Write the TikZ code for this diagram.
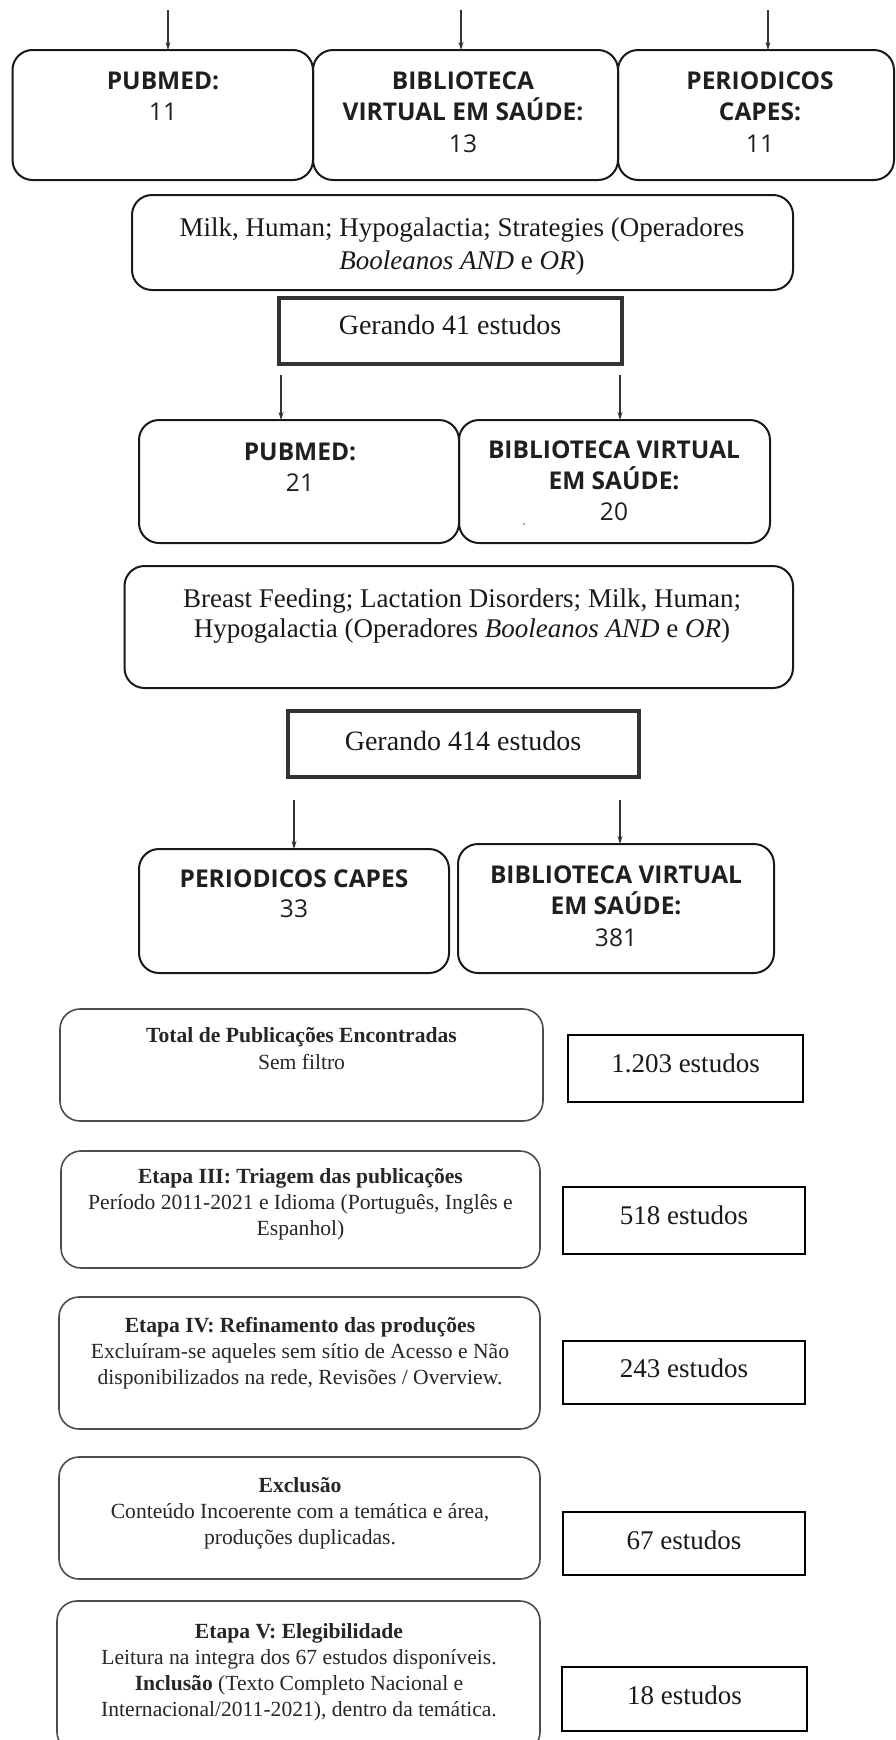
\documentclass[tikz,border=0pt]{standalone}
\usepackage{fontspec}
\setmainfont{Liberation Serif}
\newfontfamily\osans{Open Sans}
\usetikzlibrary{arrows.meta}
\newcommand\mkbox[6]{\node[#1, minimum width={(#4-#2)*1pt}, minimum height={(#5-#3)*1pt}] (#6) at ({(#2+#4)/2},{(#3+#5)/2}) {};}
\tikzset{
  rbox/.style={draw=black!90, line width=2pt, rounded corners=20pt, inner sep=0pt, outer sep=0pt},
  lbox/.style={draw=black!70, line width=1.6pt, rounded corners=20pt, inner sep=0pt, outer sep=0pt},
  gbox/.style={draw=black!80, line width=3.2pt, inner sep=0pt, outer sep=0pt},
  nbox/.style={draw=black, line width=2.4pt, inner sep=0pt, outer sep=0pt},
  arr/.style={draw=black!80, line width=1.5pt, -{Stealth[length=8pt,width=5pt]}},
  sanst/.style={anchor=base, align=center, inner sep=0pt, text=black!88, font=\osans\fontsize{24.5}{31.5}\selectfont},
  sert/.style={anchor=base, align=center, inner sep=0pt, text=black!90, font=\fontsize{27}{33}\selectfont},
  numt/.style={anchor=base, align=center, inner sep=0pt, text=black!90, font=\fontsize{27}{33}\selectfont},
  smallt/.style={anchor=base, align=center, inner sep=0pt, text=black!85, font=\fontsize{21.6}{26}\selectfont},
}
\begin{document}
\begin{tikzpicture}[x=1pt,y=-1pt]
\useasboundingbox (0,0) rectangle (895,1740);
% ---------- top row ----------
\mkbox{rbox}{12.5}{50}{313}{180}{pubA}
\mkbox{rbox}{313}{50}{618}{180}{bvsA}
\mkbox{rbox}{618}{50}{894}{180}{capA}
\node[sanst] (tpubA) at (163,120.5) {\bfseries PUBMED:\\11};
\node[sanst] (tbvsA) at (463,152) {\bfseries BIBLIOTECA\\\bfseries VIRTUAL EM SAÚDE:\\13};
\node[sanst] (tcapA) at (760,152) {\bfseries PERIODICOS\\\bfseries CAPES:\\11};
\coordinate (s1) at (168,10);
\coordinate (s2) at (461,10);
\coordinate (s3) at (768,10);
\draw[arr] (s1) -- (s1 |- pubA.north);
\draw[arr] (s2) -- (s2 |- bvsA.north);
\draw[arr] (s3) -- (s3 |- capA.north);
% keywords 1
\mkbox{rbox}{132}{195}{793}{290}{kw1}
\node[sert] (tkw1) at (462,269) {Milk, Human; Hypogalactia; Strategies (Operadores\\\textit{Booleanos AND} e \textit{OR})};
\mkbox{gbox}{279}{298}{622}{364}{ger1}
\node[sert, font=\fontsize{28}{33}\selectfont] (tger1) at (450,334) {Gerando 41 estudos};
% ---------- second row ----------
\mkbox{rbox}{139}{420}{459}{543}{pubB}
\mkbox{rbox}{459}{420}{770}{543}{bvsB}
\node[sanst, font=\osans\fontsize{24.5}{31}\selectfont] (tpubB) at (300,491) {\bfseries PUBMED:\\21};
\node[sanst, font=\osans\fontsize{24.5}{31}\selectfont] (tbvsB) at (614,520) {\bfseries BIBLIOTECA VIRTUAL\\\bfseries EM SAÚDE:\\20};
\fill[black!45] (524,524) circle (1.2);
\coordinate (s4) at (281,375);
\coordinate (s5) at (620,375);
\draw[arr] (s4) -- (s4 |- pubB.north);
\draw[arr] (s5) -- (s5 |- bvsB.north);
% keywords 2
\mkbox{rbox}{124.5}{566}{793}{688}{kw2}
\node[sert, font=\fontsize{27}{30}\selectfont] (tkw2) at (462,637) {Breast Feeding; Lactation Disorders; Milk, Human;\\Hypogalactia (Operadores \textit{Booleanos AND} e \textit{OR})};
\mkbox{gbox}{288}{711}{639}{777}{ger2}
\node[sert, font=\fontsize{28}{33}\selectfont] (tger2) at (463,750) {Gerando 414 estudos};
% ---------- third row ----------
\mkbox{rbox}{139}{849}{449}{973}{capC}
\mkbox{rbox}{458}{844}{774}{973}{bvsC}
\node[sanst, font=\osans\fontsize{24.5}{30}\selectfont] (tcapC) at (294,917) {\bfseries PERIODICOS CAPES\\33};
\node[sanst, font=\osans\fontsize{24.5}{31.5}\selectfont] (tbvsC) at (616,946) {\bfseries BIBLIOTECA VIRTUAL\\\bfseries EM SAÚDE:\\381};
\coordinate (s6) at (294,800);
\coordinate (s7) at (620,800);
\draw[arr] (s6) -- (s6 |- capC.north);
\draw[arr] (s7) -- (s7 |- bvsC.north);
% ---------- bottom list ----------
\mkbox{lbox}{60}{1009}{543}{1121}{st1}
\node[smallt, font=\fontsize{21.6}{26.5}\selectfont] (tst1) at (301.5,1069) {\textbf{Total de Publicações Encontradas}\\Sem filtro};
\mkbox{nbox}{568}{1035}{803}{1102}{n1}
\node[numt] (tn1) at (685.5,1072.5) {1.203 estudos};

\mkbox{lbox}{61}{1151}{540}{1268}{st2}
\node[smallt] (tst2) at (300.5,1235.5) {\textbf{Etapa III: Triagem das publicações}\\Período 2011-2021 e Idioma (Português, Inglês e\\Espanhol)};
\mkbox{nbox}{563}{1187}{805}{1254}{n2}
\node[numt] (tn2) at (684,1224.5) {518 estudos};

\mkbox{lbox}{59}{1297}{540}{1429}{st3}
\node[smallt] (tst3) at (300,1384) {\textbf{Etapa IV: Refinamento das produções}\\Excluíram-se aqueles sem sítio de Acesso e Não\\disponibilizados na rede, Revisões / Overview.};
\mkbox{nbox}{563}{1341}{805}{1404}{n3}
\node[numt] (tn3) at (684,1377.5) {243 estudos};

\mkbox{lbox}{59}{1457}{540}{1579}{st4}
\node[smallt] (tst4) at (300,1544) {\textbf{Exclusão}\\Conteúdo Incoerente com a temática e área,\\produções duplicadas.};
\mkbox{nbox}{563}{1512}{805}{1575}{n4}
\node[numt] (tn4) at (684,1549.5) {67 estudos};

\mkbox{lbox}{57}{1601}{540}{1752}{st5}
\node[smallt] (tst5) at (299,1716) {\textbf{Etapa V: Elegibilidade}\\Leitura na integra dos 67 estudos disponíveis.\\\textbf{Inclusão} (Texto Completo Nacional e\\Internacional/2011-2021), dentro da temática.};
\mkbox{nbox}{562}{1667}{807}{1731}{n5}
\node[numt] (tn5) at (684.5,1704.5) {18 estudos};
\end{tikzpicture}
\end{document}
